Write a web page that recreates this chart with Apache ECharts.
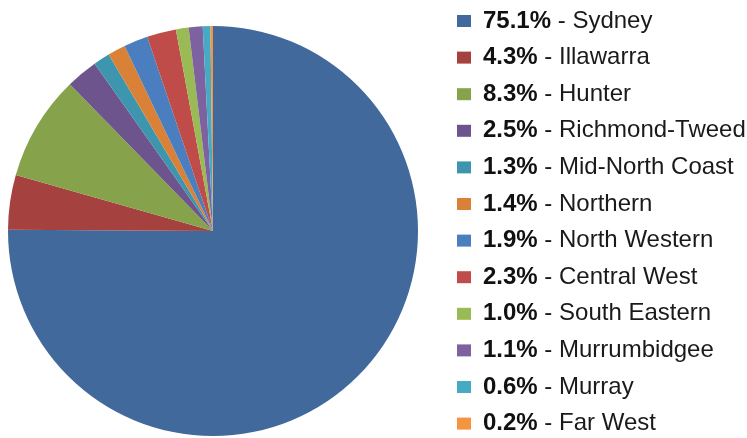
<!DOCTYPE html>
<html>
<head>
<meta charset="utf-8">
<script src="https://cdn.jsdelivr.net/npm/echarts@6/dist/echarts.min.js"></script>
<style>
html, body { margin: 0; padding: 0; background: #fff; }
.chart { width: 747px; height: 438px; }
</style>
</head>
<body>
<div class="chart"></div>
<script>
// regions and their share (%)
var regions = ['Sydney', 'Illawarra', 'Hunter', 'Richmond-Tweed', 'Mid-North Coast', 'Northern',
    'North Western', 'Central West', 'South Eastern', 'Murrumbidgee', 'Murray', 'Far West'];
var shares = [75.1, 4.3, 8.3, 2.5, 1.3, 1.4, 1.9, 2.3, 1.0, 1.1, 0.6, 0.2];
var colors = ['#41699b', '#a5413e', '#86a34b', '#6d548c', '#3d96ad', '#d98237',
    '#4a7ebe', '#bf4c49', '#99ba55', '#7e62a0', '#47aac4', '#f69341'];

var font = '"Liberation Sans", Arial, sans-serif';

var myChart = echarts.init(document.querySelector('.chart'));

var pieData = regions.map(function (name, i) {
    return { name: name, value: shares[i] };
});

var option = {
    backgroundColor: '#fff',
    color: colors,
    animation: false,
    legend: {
        orient: 'vertical',
        left: 457,
        top: 9,
        padding: 0,
        icon: 'rect',
        itemWidth: 14,
        itemHeight: 12,
        itemGap: 12.6,
        textStyle: {
            fontFamily: font,
            fontSize: 24,
            color: '#1a1a1a',
            lineHeight: 24,
            rich: {
                b: {
                    fontFamily: font,
                    fontSize: 24,
                    fontWeight: 'bold',
                    color: '#111',
                    lineHeight: 24,
                    padding: [0, 0, 0, 7]
                },
                n: {
                    fontFamily: font,
                    fontSize: 24,
                    color: '#1a1a1a',
                    lineHeight: 24
                }
            }
        },
        formatter: function (name) {
            var i = regions.indexOf(name);
            return '{b|' + shares[i].toFixed(1) + '%}{n| - ' + name + '}';
        },
        data: regions
    },
    series: [{
        type: 'pie',
        center: [213, 231],
        radius: 205,
        startAngle: 90,
        clockwise: true,
        label: { show: false },
        labelLine: { show: false },
        emphasis: { disabled: true },
        data: pieData
    }]
};

myChart.setOption(option);
</script>
</body>
</html>
